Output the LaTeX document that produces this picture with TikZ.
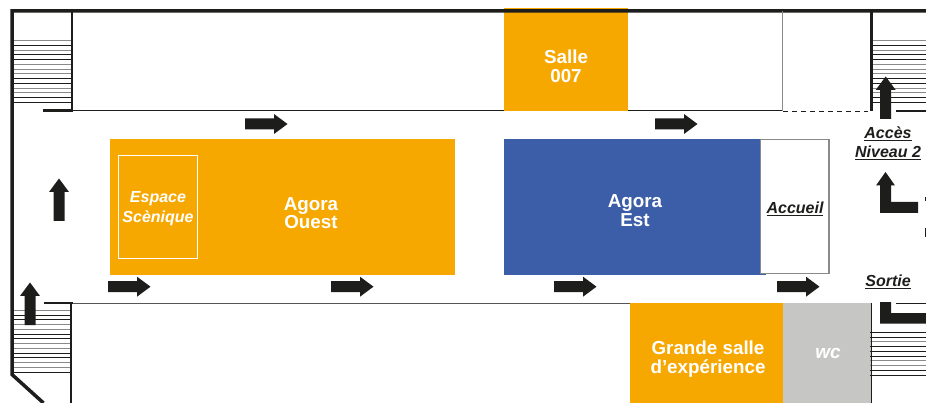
\documentclass[tikz,border=0pt]{standalone}
\usepackage{fontspec}
\setmainfont{Liberation Sans}
\definecolor{orangeroom}{HTML}{F7A800}
\definecolor{blueroom}{HTML}{3C5EA8}
\definecolor{greyroom}{HTML}{C6C6C5}
\definecolor{ink}{HTML}{1D1D1B}
\definecolor{midgrey}{HTML}{8A8A8A}
\tikzset{
  x=1pt,y=-1pt,
  room/.style={fill=#1,draw=none},
  roomlabel/.style={text=white,font=\bfseries\fontsize{18.8}{18.6}\selectfont,align=center,inner sep=0},
  roomlabelit/.style={text=white,font=\bfseries\itshape\fontsize{16}{20}\selectfont,align=center,inner sep=0},
  blacklabel/.style={text=ink,font=\bfseries\itshape\fontsize{16}{19}\selectfont,align=center,inner sep=0},
  wallthick/.style={draw=ink,line width=3.5pt},
  wallmed/.style={draw=ink,line width=2.2pt},
  wallthin/.style={draw=ink,line width=1pt},
  partition/.style={draw=midgrey,line width=1.2pt},
}
\newcommand{\arrowright}[2]{\fill[ink] (#1,#2-5.5) -- ++(29,0) -- ++(0,-4.5) -- ++(13.5,10) -- ++(-13.5,10) -- ++(0,-4.5) -- ++(-29,0) -- cycle;}
\newcommand{\arrowup}[2]{\fill[ink] (#1-5.5,#2) -- ++(0,-29) -- ++(-4.5,0) -- ++(10,-13.5) -- ++(10,13.5) -- ++(-4.5,0) -- ++(0,29) -- cycle;}
\newcommand{\stairs}[4]{\foreach \c [count=\k from 0] in {#4}{
  \draw[draw=\c,line width=1.1pt] (#1,#3+\k*4.75) -- (#2,#3+\k*4.75);}}
\begin{document}
\begin{tikzpicture}
\useasboundingbox (0,0) rectangle (926,403);
\fill[white] (0,0) rectangle (926,403);
% rooms
\fill[room=orangeroom] (504,8) rectangle (628,111.5);
\fill[room=orangeroom] (110,139) rectangle (455,275);
\fill[room=blueroom] (504,139) rectangle (766,275);
\fill[room=orangeroom] (630,303) rectangle (783,403);
\fill[room=greyroom] (783,303) rectangle (871,403);
\draw[white,line width=.8pt] (118.5,155) rectangle (197.5,258.5);
\draw[fill=white,draw=midgrey,line width=1.1pt] (760.5,139.5) rectangle (829,273.5);
% stairs
\stairs{13}{71}{40.7}{midgrey,ink,midgrey,ink,ink,midgrey,midgrey,midgrey,ink,ink,midgrey,midgrey,ink,ink}
\stairs{13}{71}{310.3}{midgrey,ink,ink,midgrey,midgrey,ink,ink,midgrey,midgrey,ink,ink,midgrey,midgrey,ink}
\stairs{872}{926}{40.7}{midgrey,ink,midgrey,ink,ink,midgrey,midgrey,midgrey,ink,ink,midgrey,midgrey,ink,ink}
\stairs{870}{926}{332.3}{ink,ink,midgrey,ink,ink,ink,midgrey,midgrey,ink,ink}
% walls
\draw[wallthick,line join=miter] (926,10.9) -- (12,10.9) -- (12,374.5) -- (43.5,403);
\draw[wallmed] (71.7,11) -- (71.7,111);
\draw[wallmed,line width=1.7pt] (71.3,302) -- (71.3,403);
\draw[wallmed] (871.5,11) -- (871.5,111.5);
\draw[wallmed,line width=1.8pt] (871.5,303) -- (871.5,403);
\draw[wallthin] (43,111) -- (504,111);
\draw[wallmed] (43,110.5) -- (72.5,110.5);
\draw[wallthin] (628,111) -- (783,111);
\draw[partition] (782.8,11) -- (782.8,111);
\draw[draw=ink,line width=.8pt,dash pattern=on 5pt off 4pt] (783,111) -- (868,111);
\draw[wallmed] (896,110.8) -- (926,110.8);
\draw[wallthin,draw=ink!75] (44,303) -- (630,303);
\draw[wallmed] (44,302.7) -- (72.5,302.7);
% arrows
\arrowright{245}{124}
\arrowright{655}{124}
\arrowright{108}{286.7}
\arrowright{331}{286.7}
\arrowright{554}{286.7}
\arrowright{777}{286.7}
\arrowup{59}{221}
\arrowup{30}{325}
\arrowup{885.7}{119}
% L-shaped arrows
\fill[ink] (880,213) -- (880,185.5) -- (876,185.5) -- (885.5,172) -- (895,185.5) -- (891,185.5) -- (891,202) -- (918,202) -- (918,213) -- cycle;
\fill[ink] (880,302) -- (891,302) -- (891,313) -- (926,313) -- (926,323.5) -- (880,323.5) -- cycle;
\draw[wallmed,line width=1.6pt] (896,303.5) -- (926,303.5);
\fill[ink] (925,197) rectangle (926,201);
\fill[ink] (924.5,228) rectangle (926,237);
% labels
\node[roomlabel] (salle) at (566,66) {Salle\\007};
\node[roomlabel] (ouest) at (311,213) {Agora\\Ouest};
\node[roomlabel] (est) at (635,210.500) {Agora\\Est};
\node[roomlabel] (grande) at (708,359) {Grande salle\\d’expérience};
\node[roomlabelit] (espace) at (158,209) {Espace\\Scènique};
\node[text=white,font=\bfseries\itshape\fontsize{19}{19}\selectfont,inner sep=0] (wc) at (828,353) {wc};
\node[blacklabel] (accueil) at (795,209) {\underline{Accueil}};
\node[blacklabel] (acces) at (888,143) {\underline{Accès}\\\underline{Niveau 2}};
\node[blacklabel] (sortie) at (888,282) {\underline{Sortie}};
\end{tikzpicture}
\end{document}
